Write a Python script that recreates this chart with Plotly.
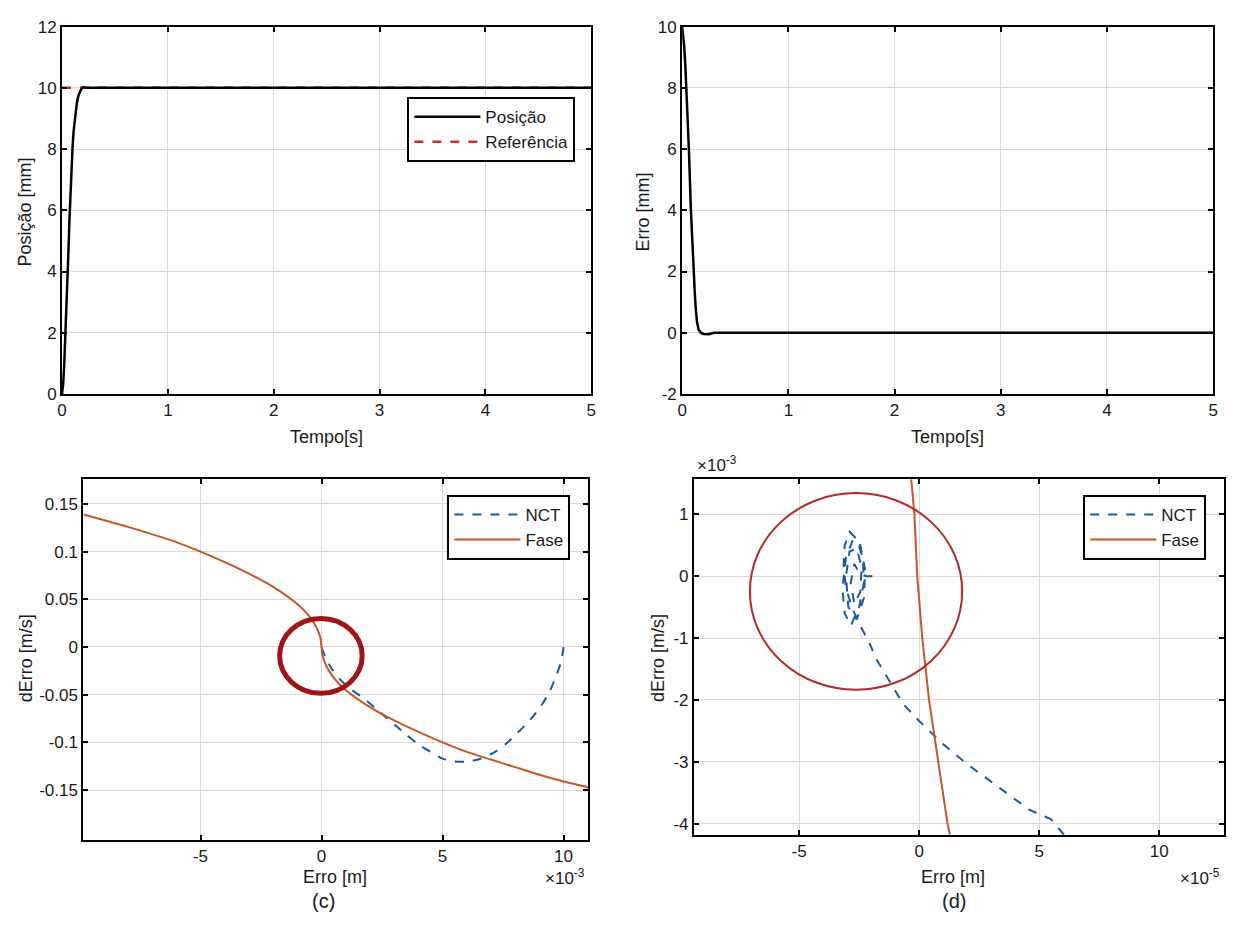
import plotly.graph_objects as go

W, H = 1238, 927

# ---------------- data ----------------
# (a) position vs time [mm]
pos_t = [0, 0.01, 0.02, 0.03, 0.04, 0.05, 0.06, 0.07, 0.08, 0.09, 0.10, 0.11, 0.12, 0.13, 0.14, 0.15, 0.16, 0.18, 0.20, 0.22, 5.0]
pos_y = [0, 0.3, 0.9, 1.7, 2.6, 3.6, 4.6, 5.7, 6.7, 7.5, 8.1, 8.6, 8.95, 9.25, 9.5, 9.68, 9.8, 9.95, 10.02, 10.0, 10.0]
ref_t = [0, 5.0]
ref_y = [10, 10]

# (b) error vs time [mm]
err_t = [0, 0.01, 0.02, 0.03, 0.04, 0.063, 0.082, 0.095, 0.108, 0.12, 0.13, 0.14, 0.155, 0.175, 0.2, 0.25, 0.3, 5.0]
err_y = [10.0, 9.7, 9.3, 8.7, 8.0, 6.0, 4.0, 2.9, 2.0, 1.2, 0.7, 0.35, 0.1, 0.0, -0.04, -0.05, 0.0, 0.0]

# (c) phase plane, x in 1e-3 m, y in m/s
c_fase_x = [-9.84, -8, -6, -5, -4, -3, -2, -1, -0.5, -0.2, -0.05, 0, 0.05, 0.2, 0.5, 1, 2, 3, 4, 5, 6, 7, 8, 9, 10, 11.02]
c_fase_y = [0.139, 0.126, 0.110, 0.100, 0.089, 0.077, 0.063, 0.045, 0.032, 0.020, 0.010, 0.0, -0.010, -0.020, -0.032, -0.045, -0.063, -0.077, -0.089, -0.100, -0.110, -0.118, -0.126, -0.134, -0.141, -0.147]
c_nct_x = [10, 9.9, 9.7, 9.4, 9.06, 8.6, 8.1, 7.6, 7.1, 6.6, 6.1, 5.5, 5.0, 4.5, 4.0, 3.5, 3.0, 2.4, 1.8, 1.25, 0.8, 0.4, 0.15, 0.0]
c_nct_y = [0.0, -0.015, -0.03, -0.048, -0.062, -0.077, -0.09, -0.102, -0.111, -0.117, -0.12, -0.12, -0.117, -0.11, -0.102, -0.092, -0.081, -0.068, -0.055, -0.045, -0.035, -0.022, -0.01, 0.0]
c_circle = [-1.73, 1.68, -0.0486, 0.030]   # x0, x1, y0, y1

# (d) zoomed phase plane, x in 1e-5 m, y in 1e-3 m/s
d_fase_x = [-0.33, -0.2, -0.08, 0.13, 0.41, 0.79, 1.18, 1.28]
d_fase_y = [1.57, 1.0, 0.0, -1.0, -2.0, -3.0, -4.0, -4.18]
d_nct_x = [6.03, 5.5, 4.6, 3.28, 1.97, 0.98, 0.0, -0.66, -1.31, -1.8, -2.2,
           -2.25, -2.45, -2.75, -3.05, -3.15, -3.1, -2.9, -2.6, -2.35, -2.3, -2.5, -2.85, -3.1, -3.2,
           -3.05, -2.75, -2.45, -2.25, -2.3, -2.6, -2.95, -3.05, -2.9, -2.6, -2.4, -2.45, -2.7, -2.85,
           -2.7, -2.5, -2.2, -1.8]
d_nct_y = [-4.18, -3.93, -3.78, -3.4, -3.03, -2.71, -2.34, -2.07, -1.65, -1.33, -0.96,
           -0.95, -0.8, -0.55, -0.2, 0.2, 0.5, 0.72, 0.6, 0.3, -0.1, -0.5, -0.8, -0.6, -0.2,
           0.3, 0.6, 0.5, 0.1, -0.35, -0.7, -0.5, 0.0, 0.4, 0.45, 0.15, -0.25, -0.45, -0.1,
           0.2, 0.05, 0.0, 0.0]
d_circle = [-7.05, 1.79, -1.835, 1.345]

# tick labels
t_ticks = [0, 1, 2, 3, 4, 5]
a_yticks = [0, 2, 4, 6, 8, 10, 12]
b_yticks = [-2, 0, 2, 4, 6, 8, 10]
c_xticks = [-5, 0, 5, 10]
c_yticks = [-0.15, -0.1, -0.05, 0, 0.05, 0.1, 0.15]
c_ylabels = ["-0.15", "-0.1", "-0.05", "0", "0.05", "0.1", "0.15"]
d_xticks = [-5, 0, 5, 10]
d_yticks = [-4, -3, -2, -1, 0, 1]

# ---------------- styling ----------------
FONT = "Liberation Sans, Arial, Helvetica, sans-serif"
TXT = "#1a1a1a"
GRID = "#d9d9d9"
BLUE = "rgb(25,90,160)"
ORANGE = "rgb(200,85,40)"


def dom_x(l, r):
    return [l / W, r / W]


def dom_y(t, b):
    return [1 - b / H, 1 - t / H]


def ax(domain, anchor, rng, tickvals, ticktext=None):
    d = dict(domain=domain, anchor=anchor, range=rng, tickvals=tickvals,
             ticktext=ticktext if ticktext is not None else [str(v) for v in tickvals],
             showline=True, linecolor="black", linewidth=2, mirror="allticks",
             ticks="inside", ticklen=5, tickwidth=1.5, tickcolor="black",
             showgrid=True, gridcolor=GRID, gridwidth=1, zeroline=False,
             tickfont=dict(family=FONT, size=17, color=TXT))
    return d


fig = go.Figure()

# (a)
fig.add_trace(go.Scatter(x=ref_t, y=ref_y, mode="lines", name="Referência",
                         line=dict(color="rgb(210,40,40)", width=2.5, dash="dash"),
                         xaxis="x", yaxis="y", legend="legend"))
fig.add_trace(go.Scatter(x=pos_t, y=pos_y, mode="lines", name="Posição",
                         line=dict(color="black", width=2.5),
                         xaxis="x", yaxis="y", legend="legend"))
# (b)
fig.add_trace(go.Scatter(x=err_t, y=err_y, mode="lines", showlegend=False,
                         line=dict(color="black", width=2.5), xaxis="x2", yaxis="y2"))
# (c)
fig.add_trace(go.Scatter(x=c_nct_x, y=c_nct_y, mode="lines", name="NCT",
                         line=dict(color=BLUE, width=2, dash="dash", shape="spline", smoothing=0.8),
                         xaxis="x3", yaxis="y3", legend="legend2"))
fig.add_trace(go.Scatter(x=c_fase_x, y=c_fase_y, mode="lines", name="Fase",
                         line=dict(color=ORANGE, width=2, shape="spline", smoothing=0.6),
                         xaxis="x3", yaxis="y3", legend="legend2"))
# (d)
fig.add_trace(go.Scatter(x=d_nct_x, y=d_nct_y, mode="lines", name="NCT",
                         line=dict(color=BLUE, width=2, dash="dash"),
                         xaxis="x4", yaxis="y4", legend="legend3"))
fig.add_trace(go.Scatter(x=d_fase_x, y=d_fase_y, mode="lines", name="Fase",
                         line=dict(color=ORANGE, width=2),
                         xaxis="x4", yaxis="y4", legend="legend3"))

legend_style = dict(bgcolor="white", bordercolor="black", borderwidth=2,
                    font=dict(family=FONT, size=17, color=TXT),
                    xanchor="right", yanchor="top", itemwidth=66,
                    tracegroupgap=0)

fig.update_layout(
    width=W, height=H, margin=dict(l=0, r=0, t=0, b=0),
    paper_bgcolor="white", plot_bgcolor="white",
    font=dict(family=FONT, size=17, color=TXT),
    xaxis=ax(dom_x(57.5, 591), "y", [0, 5], t_ticks),
    yaxis=ax(dom_y(18, 393), "x", [0, 12], a_yticks),
    xaxis2=ax(dom_x(682.7, 1218), "y2", [0, 5], t_ticks),
    yaxis2=ax(dom_y(18, 393), "x2", [-2, 10], b_yticks),
    xaxis3=ax(dom_x(79, 588), "y3", [-9.84, 11.02], c_xticks),
    yaxis3=ax(dom_y(480, 848), "x3", [-0.202, 0.176], c_yticks, c_ylabels),
    xaxis4=ax(dom_x(694.6, 1229), "y4", [-9.38, 12.7], d_xticks),
    yaxis4=ax(dom_y(480, 843), "x4", [-4.18, 1.57], d_yticks),
    legend=dict(x=575 / W, y=1 - 90 / H, traceorder="reversed", **legend_style),
    legend2=dict(x=570 / W, y=1 - 496 / H, traceorder="normal", **legend_style),
    legend3=dict(x=1211 / W, y=1 - 496 / H, traceorder="normal", **legend_style),
)

# circles marking the region of interest
fig.add_shape(type="circle", xref="x3", yref="y3",
              x0=c_circle[0], x1=c_circle[1], y0=c_circle[2], y1=c_circle[3],
              line=dict(color="rgb(160,20,20)", width=5))
fig.add_shape(type="circle", xref="x4", yref="y4",
              x0=d_circle[0], x1=d_circle[1], y0=d_circle[2], y1=d_circle[3],
              line=dict(color="rgb(180,40,40)", width=2))


def label(text, x, y, size=18, angle=0):
    fig.add_annotation(text=text, x=x / W, y=1 - y / H, xref="paper", yref="paper",
                       showarrow=False, textangle=angle, xanchor="center", yanchor="middle",
                       font=dict(family=FONT, size=size, color=TXT))


label("Tempo[s]", 324, 437)
label("Tempo[s]", 950, 437)
label("Posição [mm]", 20, 207, angle=-90)
label("Erro [mm]", 643, 207, angle=-90)
label("dErro [m/s]", 22, 663, angle=-90)
label("dErro [m/s]", 659, 663, angle=-90)
label("Erro [m]", 333, 886)
label("Erro [m]", 956, 886)
label("×10<sup>-3</sup>", 565, 886, size=17)
label("×10<sup>-5</sup>", 1205, 886, size=17)
label("×10<sup>-3</sup>", 718, 465, size=17)
label("(c)", 321, 911, size=20)
label("(d)", 957, 911, size=20)

fig.write_html("out.html")
